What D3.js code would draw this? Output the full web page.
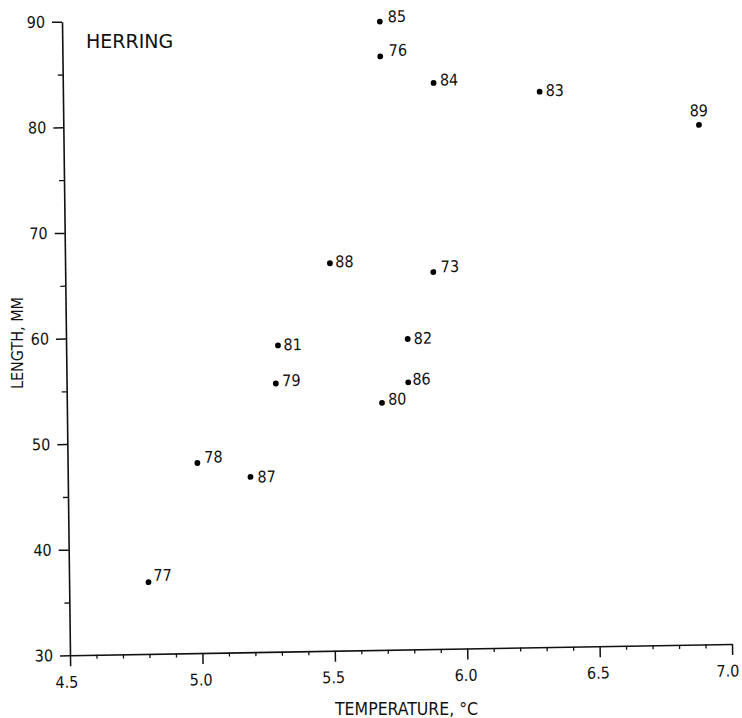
<!DOCTYPE html>
<html>
<head>
<meta charset="utf-8">
<script src="https://cdn.jsdelivr.net/npm/d3@7/dist/d3.min.js"></script>
<style>
  html, body { margin: 0; padding: 0; background: #fff; }
  svg { display: block; }
  text { fill: #111; }
</style>
</head>
<body>
<svg id="chart" width="742" height="718"></svg>
<script>
// ---- data ----
const years       = ["73","76","77","78","79","80","81","82","83","84","85","86","87","88","89"];
const temperature = [5.89, 5.70, 4.80, 4.99, 5.29, 5.69, 5.30, 5.79, 6.30, 5.90, 5.70, 5.79, 5.19, 5.50, 6.90];
const lengthMM    = [65.7, 86.2, 36.8, 48.0, 55.4, 53.4, 59.0, 59.4, 82.6, 83.6, 89.5, 55.3, 46.6, 66.7, 79.2];

const xTicks = [4.5, 5.0, 5.5, 6.0, 6.5, 7.0];
const xTickLabels = ["4.5", "5.0", "5.5", "6.0", "6.5", "7.0"];
const yTicks = [30, 40, 50, 60, 70, 80, 90];
const yMinorTicks = [35, 45, 55, 65, 75, 85];
const xMinorTicks = d3.range(4.6, 7.0, 0.1).map(v => +v.toFixed(1)).filter(v => !xTicks.includes(v));

// label nudges (layout only): offset of label start / centre from the dot
const labelNudge = {
  "73": [7.5, -5.5], "76": [8.5, -6], "77": [5, -7], "78": [7, -6], "79": [6.5, -3],
  "80": [6.2, -3.8], "81": [5.5, -0.8], "82": [6, -0.8], "83": [6, -1.3], "84": [6.3, -3],
  "85": [8, -5], "86": [4.2, -3.3], "87": [7, 0], "88": [5.3, -1.6]
};

const points = years.map((y, i) => ({ year: y, t: temperature[i], l: lengthMM[i] }));

// ---- layout ----
const svg = d3.select("#chart");
const FONT = "'DejaVu Sans Condensed', 'DejaVu Sans', sans-serif";

// the scanned figure is slightly skewed: model it with a matrix on the plot group
const origin = [70, 655.3];
const xEnd = [732, 644];     // screen position of 7.0 on the x axis
const yEnd = [62, 21.7];     // screen position of 90 on the y axis
const xLen = Math.hypot(xEnd[0] - origin[0], xEnd[1] - origin[1]);
const yLen = Math.hypot(yEnd[0] - origin[0], yEnd[1] - origin[1]);
const ex = [(xEnd[0] - origin[0]) / xLen, (xEnd[1] - origin[1]) / xLen];
const ey = [-(yEnd[0] - origin[0]) / yLen, -(yEnd[1] - origin[1]) / yLen];

const g = svg.append("g")
  .attr("transform", `matrix(${ex[0]},${ex[1]},${ey[0]},${ey[1]},${origin[0]},${origin[1]})`);

const x = d3.scaleLinear().domain([4.5, 7.0]).range([0, xLen]);
const y = d3.scaleLinear().domain([30, 90]).range([0, -yLen]);

// minor ticks first
g.append("g")
  .call(d3.axisBottom(x).tickValues(xMinorTicks).tickSize(4).tickSizeOuter(0).tickFormat(""))
  .call(s => s.select(".domain").remove())
  .call(s => s.selectAll("line").attr("stroke", "#111").attr("stroke-width", 1.3));

g.append("g")
  .call(d3.axisLeft(y).tickValues(yMinorTicks).tickSize(5).tickSizeOuter(0).tickFormat(""))
  .call(s => s.select(".domain").remove())
  .call(s => s.selectAll("line").attr("stroke", "#111").attr("stroke-width", 1.3));

// major x axis
const xAxis = g.append("g")
  .call(d3.axisBottom(x).tickValues(xTicks).tickSize(11).tickSizeOuter(0).tickPadding(10)
    .tickFormat((d, i) => xTickLabels[i]));
xAxis.select(".domain").attr("stroke", "#111").attr("stroke-width", 1.6);
xAxis.selectAll("line").attr("stroke", "#111").attr("stroke-width", 1.5);
xAxis.selectAll("text").attr("font-family", FONT).attr("font-size", 16).attr("fill", "#111")
  .attr("dx", d => d === 7.0 ? -5 : (d === 4.5 ? -4 : -2));

// major y axis
const yAxis = g.append("g")
  .call(d3.axisLeft(y).tickValues(yTicks).tickSize(10).tickSizeOuter(0).tickPadding(7));
yAxis.select(".domain").attr("stroke", "#111").attr("stroke-width", 1.6);
yAxis.selectAll("line").attr("stroke", "#111").attr("stroke-width", 1.5);
yAxis.selectAll("text").attr("font-family", FONT).attr("font-size", 16).attr("fill", "#111");

// points
g.append("g").selectAll("circle")
  .data(points).join("circle")
  .attr("cx", d => x(d.t))
  .attr("cy", d => y(d.l))
  .attr("r", 2.9)
  .attr("fill", "#000");

// point labels
g.append("g").selectAll("text")
  .data(points).join("text")
  .attr("font-family", FONT)
  .attr("font-size", 16)
  .attr("dy", "0.36em")
  .attr("text-anchor", d => labelNudge[d.year] ? "start" : "middle")
  .attr("x", d => x(d.t) + (labelNudge[d.year] ? labelNudge[d.year][0] : 0))
  .attr("y", d => y(d.l) + (labelNudge[d.year] ? labelNudge[d.year][1] : -14.5))
  .text(d => d.year);

// titles
svg.append("text")
  .attr("x", 86).attr("y", 47.5)
  .attr("font-family", "'DejaVu Sans', sans-serif")
  .attr("font-size", 19)
  .text("HERRING");

svg.append("text")
  .attr("x", 335).attr("y", 715)
  .attr("font-family", FONT)
  .attr("font-size", 17.5)
  .text("TEMPERATURE, °C");

svg.append("text")
  .attr("transform", "translate(23,343) rotate(-90)")
  .attr("text-anchor", "middle")
  .attr("font-family", FONT)
  .attr("font-size", 16)
  .text("LENGTH, MM");
</script>
</body>
</html>
